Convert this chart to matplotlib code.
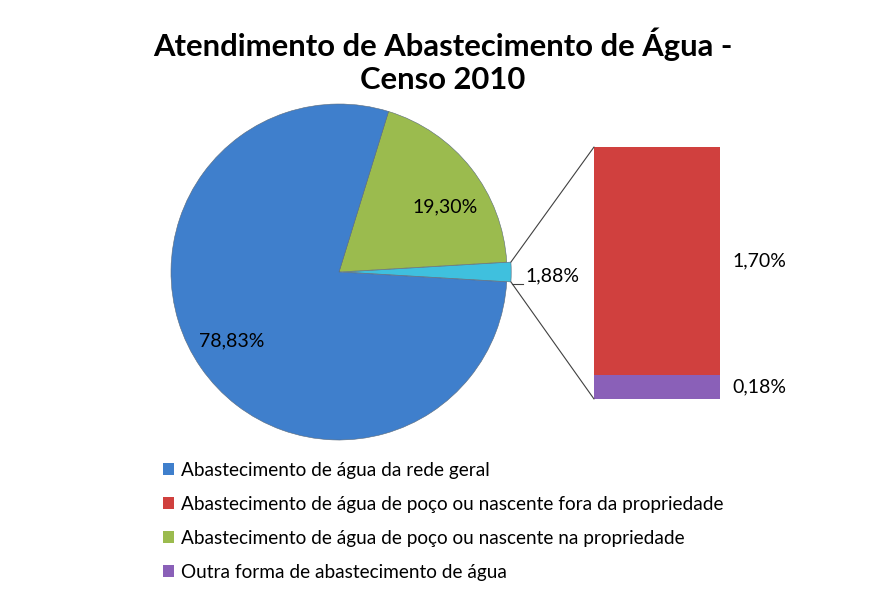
import matplotlib
matplotlib.use("Agg")
import matplotlib.pyplot as plt
from matplotlib.patches import ConnectionPatch, Patch
import numpy as np

plt.rcParams['font.family'] = ['Lato', 'DejaVu Sans']

title = "Atendimento de Abastecimento de Água -\nCenso 2010"
pie_labels = ["Outras (barra)", "Abastecimento de água de poço ou nascente na propriedade",
              "Abastecimento de água da rede geral"]
pie_values = [1.88, 19.30, 78.83]
pie_colors = ["#3fc0de", "#9bbb4e", "#3f7fcc"]

bar_labels = ["Outra forma de abastecimento de água",
              "Abastecimento de água de poço ou nascente fora da propriedade"]
bar_values = [0.18, 1.70]
bar_colors = ["#8a60b8", "#d0403e"]

legend_labels = ["Abastecimento de água da rede geral",
                 "Abastecimento de água de poço ou nascente fora da propriedade",
                 "Abastecimento de água de poço ou nascente na propriedade",
                 "Outra forma de abastecimento de água"]
legend_colors = ["#3f7fcc", "#d0403e", "#9bbb4e", "#8a60b8"]

def fmt(v):
    return f"{v:.2f}".replace('.', ',') + '%'

W, H = 886, 602
fig = plt.figure(figsize=(W / 100, H / 100), dpi=100)
fig.patch.set_facecolor('white')

LFS = 14

# pie axes (square box around the circle)
cx, cy, r = 339, 272, 168
ax = fig.add_axes([(cx - r) / W, 1 - (cy + r) / H, 2 * r / W, 2 * r / H])
half = sum(pie_values[:1]) / sum(pie_values) * 360 / 2
wedges, _ = ax.pie(pie_values, colors=pie_colors, startangle=-half, counterclock=True,
                   explode=[0.025, 0, 0], radius=1,
                   wedgeprops=dict(edgecolor='#5a6a7a', linewidth=0.4))
ax.set_xlim(-1, 1)
ax.set_ylim(-1, 1)
ax.set_aspect('equal')
ax.axis('off')
for w in wedges:
    w.set_clip_on(False)

ax.text(0.63, 0.39, fmt(pie_values[1]), ha='center', va='center', fontsize=LFS)
ax.text(-0.64, -0.41, fmt(pie_values[2]), ha='center', va='center', fontsize=LFS)
ax.text(1.11, -0.025, fmt(pie_values[0]), ha='left', va='center', fontsize=LFS)
ax.plot([1.03, 1.095], [-0.07, -0.07], color='#404040', lw=0.8, clip_on=False)

# bar axes
bx0, bx1, by0, by1 = 594, 720, 147, 399
bax = fig.add_axes([bx0 / W, 1 - by1 / H, (bx1 - bx0) / W, (by1 - by0) / H])
bottom = 0
for v, c in zip(bar_values, bar_colors):
    bax.bar(0, v, width=1, bottom=bottom, color=c, edgecolor='none')
    bax.text(0.6, bottom + v / 2, fmt(v), ha='left', va='center', fontsize=LFS)
    bottom += v
bax.set_xlim(-0.5, 0.5)
bax.set_ylim(0, sum(bar_values))
bax.axis('off')

# connector lines
theta1, theta2 = wedges[0].theta1, wedges[0].theta2
center, rr = wedges[0].center, wedges[0].r
x = rr * np.cos(np.deg2rad(theta2)) + center[0]
y = rr * np.sin(np.deg2rad(theta2)) + center[1]
con = ConnectionPatch(xyA=(-0.5, sum(bar_values)), coordsA=bax.transData,
                      xyB=(x, y), coordsB=ax.transData, color='#404040', lw=0.8)
fig.add_artist(con)
x = rr * np.cos(np.deg2rad(theta1)) + center[0]
y = rr * np.sin(np.deg2rad(theta1)) + center[1]
con = ConnectionPatch(xyA=(-0.5, 0), coordsA=bax.transData,
                      xyB=(x, y), coordsB=ax.transData, color='#404040', lw=0.8)
fig.add_artist(con)

fig.text(0.5, 1 - 61 / H, title, ha='center', va='center', fontsize=22.3,
         fontweight='bold', linespacing=1.22)

handles = [Patch(facecolor=c, edgecolor='none') for c in legend_colors]
leg = fig.legend(handles, legend_labels, loc='upper left',
                 bbox_to_anchor=(153 / W, 1 - 452 / H), frameon=False,
                 fontsize=13.7, handlelength=0.6, handleheight=0.6,
                 handletextpad=0.35, labelspacing=0.9, borderpad=0)

fig.savefig("out.png", dpi=100, facecolor='white')
